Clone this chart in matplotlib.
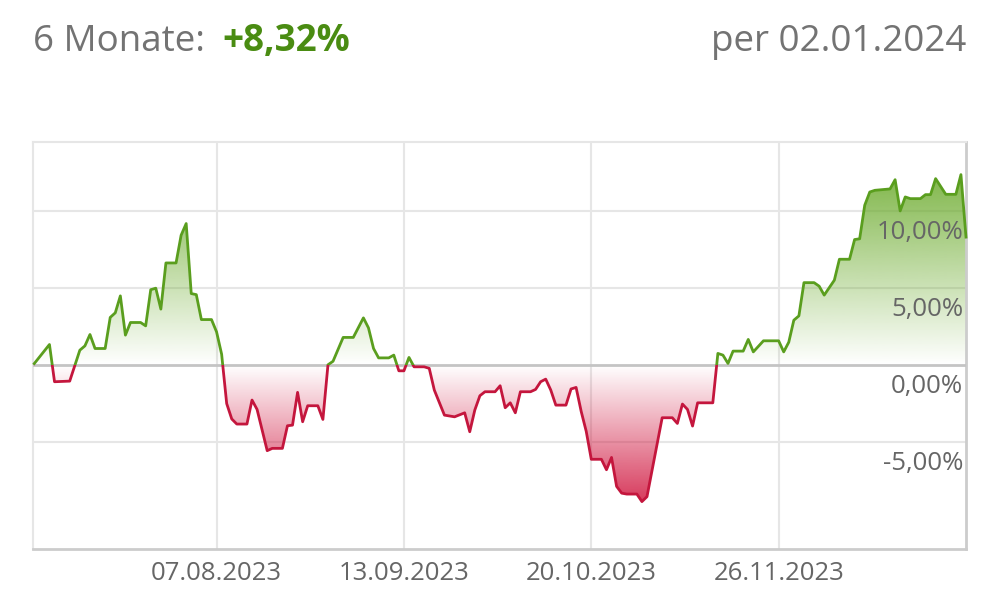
import numpy as np
import pandas as pd
import matplotlib
matplotlib.use("Agg")
import matplotlib.pyplot as plt
import matplotlib.dates as mdates
import matplotlib.transforms as mtransforms
from matplotlib.patches import Polygon, Rectangle

plt.rcParams['font.family'] = ['Open Sans', 'DejaVu Sans']

# ---------------- data ----------------
dates = [
    "2023-07-02", "2023-07-05", "2023-07-06", "2023-07-09", "2023-07-11", "2023-07-12",
    "2023-07-13", "2023-07-14", "2023-07-16", "2023-07-17", "2023-07-18", "2023-07-19",
    "2023-07-20", "2023-07-21", "2023-07-23", "2023-07-24", "2023-07-25", "2023-07-26",
    "2023-07-27", "2023-07-28", "2023-07-30", "2023-07-31", "2023-08-01", "2023-08-02",
    "2023-08-03", "2023-08-04", "2023-08-06", "2023-08-07", "2023-08-08", "2023-08-09",
    "2023-08-10", "2023-08-11", "2023-08-13", "2023-08-14", "2023-08-15", "2023-08-17",
    "2023-08-18", "2023-08-20", "2023-08-21", "2023-08-22", "2023-08-23", "2023-08-24",
    "2023-08-25", "2023-08-27", "2023-08-28", "2023-08-29", "2023-08-30", "2023-09-01",
    "2023-09-03", "2023-09-05", "2023-09-06", "2023-09-07", "2023-09-08", "2023-09-10",
    "2023-09-11", "2023-09-12", "2023-09-13", "2023-09-14", "2023-09-15", "2023-09-17",
    "2023-09-18", "2023-09-19", "2023-09-21", "2023-09-23", "2023-09-25", "2023-09-26",
    "2023-09-27", "2023-09-28", "2023-09-29", "2023-10-01", "2023-10-02", "2023-10-03",
    "2023-10-04", "2023-10-05", "2023-10-06", "2023-10-08", "2023-10-09", "2023-10-10",
    "2023-10-11", "2023-10-12", "2023-10-13", "2023-10-15", "2023-10-16", "2023-10-17",
    "2023-10-18", "2023-10-19", "2023-10-20", "2023-10-22", "2023-10-23", "2023-10-24",
    "2023-10-25", "2023-10-26", "2023-10-27", "2023-10-29", "2023-10-30", "2023-10-31",
    "2023-11-03", "2023-11-05", "2023-11-06", "2023-11-07", "2023-11-08", "2023-11-09",
    "2023-11-10", "2023-11-13", "2023-11-14", "2023-11-15", "2023-11-16", "2023-11-17",
    "2023-11-19", "2023-11-20", "2023-11-21", "2023-11-23", "2023-11-26", "2023-11-27",
    "2023-11-28", "2023-11-29", "2023-11-30", "2023-12-01", "2023-12-03", "2023-12-04",
    "2023-12-05", "2023-12-06", "2023-12-07", "2023-12-08", "2023-12-10", "2023-12-11",
    "2023-12-12", "2023-12-13", "2023-12-14", "2023-12-15", "2023-12-18", "2023-12-19",
    "2023-12-20", "2023-12-21", "2023-12-22", "2023-12-24", "2023-12-25", "2023-12-26",
    "2023-12-27", "2023-12-29", "2023-12-31", "2024-01-01", "2024-01-02",
]
performance = [
    0.10, 1.34, -1.08, -1.04, 0.97, 1.25,
    1.99, 1.08, 1.08, 3.10, 3.40, 4.50,
    1.95, 2.77, 2.77, 2.55, 4.90, 5.00,
    3.64, 6.64, 6.64, 8.44, 9.20, 4.65,
    4.58, 2.96, 2.96, 2.16, 0.71, -2.50,
    -3.50, -3.83, -3.83, -2.27, -2.88, -5.56,
    -5.41, -5.41, -3.94, -3.90, -1.77, -3.68,
    -2.64, -2.64, -3.53, 0.02, 0.25, 1.80,
    1.80, 3.07, 2.42, 1.08, 0.47, 0.47,
    0.65, -0.37, -0.37, 0.50, -0.11, -0.11,
    -0.21, -1.62, -3.25, -3.36, -3.10, -4.33,
    -2.92, -1.99, -1.73, -1.73, -1.34, -2.77,
    -2.45, -3.10, -1.73, -1.73, -1.58, -1.08,
    -0.91, -1.62, -2.60, -2.60, -1.55, -1.45,
    -3.00, -4.30, -6.12, -6.12, -6.80, -6.00,
    -7.88, -8.32, -8.38, -8.38, -8.87, -8.55,
    -3.42, -3.42, -3.79, -2.53, -2.88, -3.96,
    -2.45, -2.45, 0.76, 0.65, 0.11, 0.91,
    0.91, 1.67, 0.86, 1.58, 1.58, 0.86,
    1.49, 2.92, 3.20, 5.36, 5.36, 5.13,
    4.55, 5.04, 5.52, 6.88, 6.88, 8.16,
    8.21, 10.39, 11.25, 11.36, 11.45, 12.05,
    10.02, 10.93, 10.82, 10.82, 11.08, 11.08,
    12.12, 11.10, 11.10, 12.38, 8.32,
]
x_tick_dates = ["2023-08-07", "2023-09-13", "2023-10-20", "2023-11-26"]
x_tick_labels = ["07.08.2023", "13.09.2023", "20.10.2023", "26.11.2023"]
y_ticks = [-5, 0, 5, 10]
y_tick_labels = ["-5,00%", "0,00%", "5,00%", "10,00%"]
title_left = "6 Monate:"
title_value = "+8,32%"
title_right = "per 02.01.2024"

# ---------------- style ----------------
W, H = 999, 606
GREEN_LINE = "#5a9e1e"
RED_LINE = "#c4163d"
GREEN_FILL = np.array([106, 170, 42]) / 255
RED_FILL = np.array([208, 23, 63]) / 255
TEXT_GRAY = "#666666"
GRID = "#e6e6e6"

fig = plt.figure(figsize=(W / 100, H / 100), dpi=100)
left, right, top, bottom = 33, 966, 142, 549
ax = fig.add_axes([left / W, 1 - bottom / H, (right - left) / W, (bottom - top) / H])

x = mdates.date2num(pd.to_datetime(dates))
y = np.array(performance)
ymin_lim, ymax_lim = -11.95, 14.5

# gradient fills clipped by the series polygon
verts = [(x[0], 0)] + list(zip(x, y)) + [(x[-1], 0)]
poly = Polygon(verts, closed=True, facecolor="none", edgecolor="none")
ax.add_patch(poly)

N = 256
t = np.linspace(0, 1, N)
g = np.zeros((N, 1, 4))
g[:, 0, :3] = GREEN_FILL
g[:, 0, 3] = t * 0.85
im_g = ax.imshow(g, extent=[x[0], x[-1], 0, y.max()], origin="lower",
                 aspect="auto", zorder=1, interpolation="bilinear")
im_g.set_clip_path(poly)

r = np.zeros((N, 1, 4))
r[:, 0, :3] = RED_FILL
r[:, 0, 3] = (1 - t) * 0.85
im_r = ax.imshow(r, extent=[x[0], x[-1], y.min(), 0], origin="lower",
                 aspect="auto", zorder=1, interpolation="bilinear")
im_r.set_clip_path(poly)

# line coloured by sign
rect_pos = Rectangle((x[0] - 10, 0), x[-1] - x[0] + 20, 100, transform=ax.transData)
rect_neg = Rectangle((x[0] - 10, -100), x[-1] - x[0] + 20, 100, transform=ax.transData)
lg, = ax.plot(x, y, color=GREEN_LINE, lw=2.0, zorder=4, solid_joinstyle="round")
lr, = ax.plot(x, y, color=RED_LINE, lw=2.0, zorder=4, solid_joinstyle="round")
lg.set_clip_path(rect_pos)
lr.set_clip_path(rect_neg)

ax.set_xlim(x[0] - 0.25, x[-1])
ax.set_ylim(ymin_lim, ymax_lim)

# grid
xt = mdates.date2num(pd.to_datetime(x_tick_dates))
for v in xt:
    ax.axvline(v, color=GRID, lw=1.5, zorder=0)
for v in y_ticks:
    if v == 0:
        ax.axhline(v, color="#c4c4c4", lw=2, zorder=3)
    else:
        ax.axhline(v, color=GRID, lw=1.5, zorder=0)

ax.set_xticks(xt)
ax.set_xticklabels(x_tick_labels)
ax.set_yticks([])
ax.tick_params(axis="x", length=0, pad=9, labelsize=18.5, labelcolor=TEXT_GRAY)

for s in ["left", "top"]:
    ax.spines[s].set_color(GRID)
    ax.spines[s].set_linewidth(1.5)
for s in ["right", "bottom"]:
    ax.spines[s].set_color("#cccccc")
    ax.spines[s].set_linewidth(2)

# y labels inside plot, right aligned, below their gridline
trans = mtransforms.blended_transform_factory(ax.transAxes, ax.transData)
off = mtransforms.ScaledTranslation(-3 / 100, -21 / 100, fig.dpi_scale_trans)
for v, lab in zip(y_ticks, y_tick_labels):
    ax.text(1.0, v, lab, transform=trans + off, ha="right", va="center",
            fontsize=18.5, color=TEXT_GRAY, zorder=5)

# header
fig.text(33 / W, 1 - 51 / H, title_left, ha="left", va="baseline",
         fontsize=26.5, color="#737373")
fig.text(222 / W, 1 - 51 / H, title_value, ha="left", va="baseline",
         fontsize=26.5, color="#4a8c12", fontweight="bold")
fig.text(966 / W, 1 - 51 / H, title_right, ha="right", va="baseline",
         fontsize=26.5, color="#737373")

fig.savefig("out.png", dpi=100)
